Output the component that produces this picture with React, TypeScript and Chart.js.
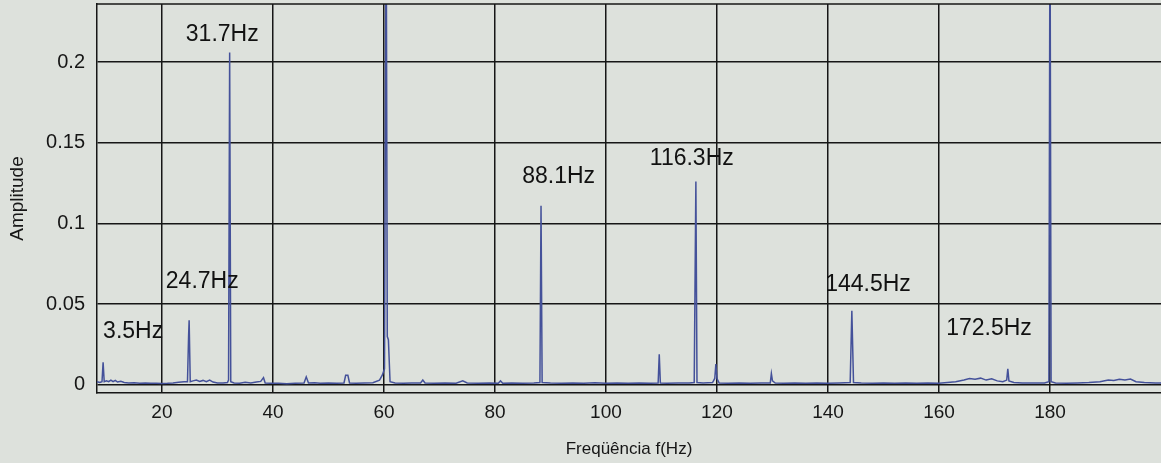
import React, { useEffect, useRef } from "react";
import { Chart, registerables } from "chart.js";

Chart.register(...registerables);

// Spectrum: frequency (Hz) and amplitude
const freqHz: number[] = [
  8.3, 8.8, 9.2, 9.4, 9.6, 10.0, 10.4, 10.8, 11.2, 11.6, 12.0, 12.6, 13.2, 14.0, 15.0, 16.0, 17.0, 18.0, 19.0, 20.0,
  21.0, 22.0, 23.0, 24.0, 24.6, 24.8, 24.9, 25.1, 25.6, 26.2, 26.8, 27.4, 28.0, 28.6, 29.2, 30.0, 31.0, 31.8, 32.0, 32.2,
  32.4, 33.0, 34.0, 35.0, 36.0, 37.0, 37.8, 38.3, 38.6, 39.5, 41.0, 42.5, 44.0, 45.6, 46.0, 46.4, 47.5, 48.5, 50.0, 51.5,
  52.8, 53.1, 53.5, 53.8, 55.0, 56.5, 58.0, 59.2, 59.7, 60.1, 60.4, 60.6, 60.8, 61.1, 62.0, 63.5, 65.0, 66.6, 67.0, 67.4,
  69.0, 71.0, 73.0, 74.2, 75.0, 77.0, 79.0, 80.6, 81.0, 81.4, 83.0, 85.0, 87.0, 88.1, 88.3, 88.5, 90.0, 92.0, 94.0, 96.0,
  98.0, 100.0, 102.0, 104.0, 106.0, 108.0, 109.4, 109.6, 109.8, 111.0, 113.0, 115.0, 115.9, 116.2, 116.4, 117.5, 119.2, 119.6, 119.8, 120.0,
  120.4, 122.0, 124.0, 126.0, 128.0, 129.6, 129.8, 130.0, 130.5, 132.0, 134.0, 136.0, 138.0, 140.0, 142.0, 144.0, 144.3, 144.6, 146.0, 148.0,
  150.0, 152.0, 154.0, 156.0, 158.0, 160.0, 161.5, 163.0, 164.5, 165.5, 166.5, 167.5, 168.5, 169.5, 170.5, 171.5, 172.2, 172.4, 172.6, 173.5,
  175.0, 177.0, 179.0, 179.8, 180.0, 180.2, 181.0, 183.0, 185.0, 187.0, 189.0, 190.5, 191.5, 192.5, 193.5, 194.5, 195.5, 197.0, 199.0, 200.0,
];
const amplitude: number[] = [
  0.002, 0.0015, 0.002, 0.014, 0.002, 0.0025, 0.002, 0.003, 0.002, 0.0028, 0.0018, 0.0022, 0.0015, 0.0012, 0.0014, 0.001, 0.0012, 0.001, 0.0011, 0.0009,
  0.001, 0.0012, 0.0016, 0.002, 0.002, 0.03, 0.04, 0.002, 0.0025, 0.003, 0.0022, 0.0028, 0.002, 0.003, 0.0018, 0.0012, 0.0012, 0.0015, 0.003, 0.206,
  0.002, 0.0012, 0.001, 0.0016, 0.0012, 0.0018, 0.0022, 0.0045, 0.0012, 0.001, 0.001, 0.0008, 0.001, 0.0012, 0.005, 0.0012, 0.0014, 0.001, 0.0012, 0.001,
  0.0012, 0.006, 0.006, 0.0012, 0.001, 0.0012, 0.0014, 0.003, 0.006, 0.01, 0.3, 0.03, 0.028, 0.002, 0.0012, 0.001, 0.0012, 0.0012, 0.003, 0.0012,
  0.001, 0.0012, 0.001, 0.0025, 0.0012, 0.001, 0.0012, 0.001, 0.0025, 0.001, 0.0012, 0.001, 0.0012, 0.0015, 0.111, 0.0015, 0.0012, 0.001, 0.0012, 0.001,
  0.0014, 0.001, 0.0012, 0.001, 0.0012, 0.001, 0.0012, 0.019, 0.0012, 0.001, 0.0012, 0.0012, 0.0015, 0.126, 0.0015, 0.0012, 0.0015, 0.004, 0.013, 0.004,
  0.0012, 0.001, 0.0012, 0.001, 0.0012, 0.0012, 0.007, 0.0025, 0.0012, 0.001, 0.0012, 0.001, 0.0012, 0.001, 0.0012, 0.0015, 0.046, 0.0015, 0.0012, 0.001,
  0.0012, 0.001, 0.0012, 0.001, 0.0012, 0.001, 0.0015, 0.002, 0.003, 0.004, 0.0035, 0.0042, 0.003, 0.0038, 0.0025, 0.002, 0.003, 0.01, 0.0025, 0.0015,
  0.0012, 0.0012, 0.0012, 0.002, 0.3, 0.002, 0.0012, 0.001, 0.0012, 0.0015, 0.002, 0.003, 0.0028, 0.0035, 0.003, 0.0036, 0.002, 0.0015, 0.0012, 0.0012,
];

// Axis ticks
const xTicks: number[] = [20, 40, 60, 80, 100, 120, 140, 160, 180];
const yTicks: number[] = [0, 0.05, 0.1, 0.15, 0.2];

// Peak annotations: text and anchor (left edge in Hz, vertical centre in amplitude)
const peakLabels: string[] = ["3.5Hz", "24.7Hz", "31.7Hz", "88.1Hz", "116.3Hz", "144.5Hz", "172.5Hz"];
const peakLabelHz: number[] = [9.4, 20.7, 24.3, 84.9, 107.9, 139.5, 161.3];
const peakLabelAmp: number[] = [0.033, 0.064, 0.217, 0.129, 0.14, 0.062, 0.035];

const FONT = "'Liberation Sans', Arial, sans-serif";
const BG = "#dde1dc";
const INK = "#161616";

export default function App() {
  const ref = useRef<HTMLCanvasElement | null>(null);

  useEffect(() => {
    if (!ref.current) return;
    const bgPlugin = {
      id: "bg",
      beforeDraw(chart: any) {
        const { ctx, width, height } = chart;
        ctx.save();
        ctx.fillStyle = BG;
        ctx.fillRect(0, 0, width, height);
        ctx.restore();
      },
    };
    const framePlugin = {
      id: "frame",
      afterDraw(chart: any) {
        const { ctx, chartArea } = chart;
        ctx.save();
        ctx.strokeStyle = INK;
        ctx.lineWidth = 1.5;
        ctx.beginPath();
        ctx.moveTo(chartArea.left, chartArea.top);
        ctx.lineTo(chartArea.right, chartArea.top);
        ctx.stroke();
        ctx.restore();
      },
    };
    const labelPlugin = {
      id: "peakLabels",
      afterDatasetsDraw(chart: any) {
        const { ctx, scales } = chart;
        ctx.save();
        ctx.fillStyle = "#111";
        ctx.font = `23px ${FONT}`;
        ctx.textAlign = "left";
        ctx.textBaseline = "middle";
        peakLabels.forEach((t, i) => {
          const x = scales.x.getPixelForValue(peakLabelHz[i]);
          const y = scales.y.getPixelForValue(peakLabelAmp[i]);
          ctx.fillText(t, x, y);
        });
        ctx.restore();
      },
    };

    const chart = new Chart(ref.current, {
      type: "line",
      data: {
        datasets: [
          {
            data: freqHz.map((f, i) => ({ x: f, y: amplitude[i] })),
            borderColor: "#44519a",
            borderWidth: 1.5,
            pointRadius: 0,
            tension: 0,
            fill: false,
          },
        ],
      },
      options: {
        animation: false,
        responsive: false,
        devicePixelRatio: 1,
        layout: { padding: { top: 4, right: 0, left: 0, bottom: 0 } },
        plugins: { legend: { display: false }, tooltip: { enabled: false } },
        scales: {
          x: {
            type: "linear",
            min: 8.3,
            max: 200,
            afterBuildTicks: (s: any) => {
              s.ticks = xTicks.map((v) => ({ value: v }));
            },
            afterFit: (s: any) => {
              s.height = 70;
              s.paddingLeft = 0;
              s.paddingRight = 0;
            },
            grid: { color: INK, lineWidth: 1.5, drawTicks: false },
            border: { color: INK, width: 1.5 },
            ticks: {
              color: INK,
              padding: 8,
              maxRotation: 0,
              autoSkip: false,
              font: { family: FONT, size: 19 },
            },
            title: {
              display: true,
              text: "Freqüência f(Hz)",
              color: INK,
              font: { family: FONT, size: 17, lineHeight: 1 },
              padding: { top: 0, bottom: 5 },
            },
          },
          y: {
            type: "linear",
            min: -0.005,
            max: 0.236,
            afterBuildTicks: (s: any) => {
              s.ticks = yTicks.map((v) => ({ value: v }));
            },
            afterFit: (s: any) => {
              s.width = 97;
              s.paddingTop = 0;
              s.paddingBottom = 0;
            },
            grid: { color: INK, lineWidth: 1.5, drawTicks: false },
            border: { color: INK, width: 1.5 },
            ticks: {
              color: INK,
              padding: 12,
              autoSkip: false,
              font: { family: FONT, size: 20 },
              callback: (v: any) => String(Number(v)),
            },
            title: {
              display: true,
              text: "Amplitude",
              color: INK,
              font: { family: FONT, size: 19, lineHeight: 1 },
              padding: { top: 8, bottom: 0 },
            },
          },
        },
      },
      plugins: [bgPlugin, framePlugin, labelPlugin],
    });
    return () => chart.destroy();
  }, []);

  return (
    <div style={{ position: "fixed", left: 0, top: 0, width: 1161, height: 463, background: BG }}>
      <canvas ref={ref} width={1161} height={463} style={{ display: "block" }} />
    </div>
  );
}
